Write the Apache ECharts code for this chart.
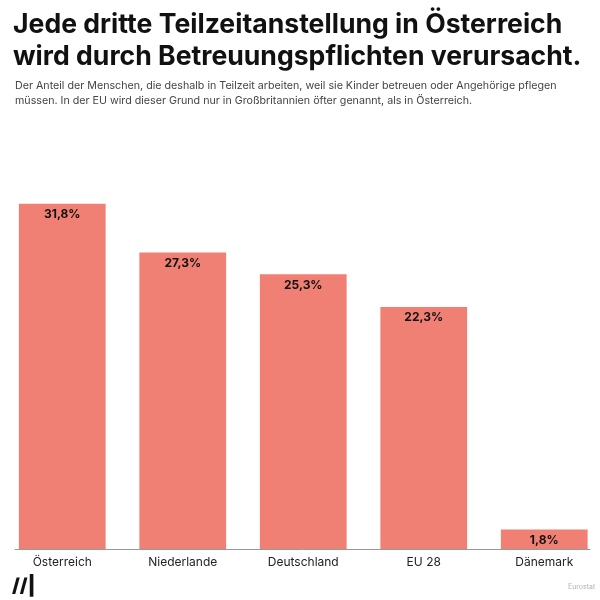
<!DOCTYPE html>
<html><head><meta charset="utf-8">
<script src="https://cdn.jsdelivr.net/npm/echarts@6/dist/echarts.min.js"></script>
<style>html,body{margin:0;padding:0;background:#fff;overflow:hidden}#c{width:606px;height:600px}</style>
</head><body><div id="c"></div>
<script>
const categories = ['Österreich', 'Niederlande', 'Deutschland', 'EU 28', 'Dänemark'];
const values = [31.8, 27.3, 25.3, 22.3, 1.8];
const valueLabels = ['31,8%', '27,3%', '25,3%', '22,3%', '1,8%'];
const titleText = 'Jede dritte Teilzeitanstellung in Österreich\nwird durch Betreuungspflichten verursacht.';
const subtitleText = 'Der Anteil der Menschen, die deshalb in Teilzeit arbeiten, weil sie Kinder betreuen oder Angehörige pflegen\nmüssen. In der EU wird dieser Grund nur in Großbritannien öfter genannt, als in Österreich.';
const sourceText = 'Eurostat';

const chart = echarts.init(document.getElementById('c'), null, {renderer: 'canvas'});
const font = 'Inter, Lato, "Noto Sans", sans-serif';
chart.setOption({
  animation: false,
  backgroundColor: '#fff',
  title: [
    {text: titleText, left: 8, top: 4, textStyle: {fontFamily: font, fontWeight: 'bold', fontSize: 26.6, lineHeight: 32, color: '#111'}},
    {text: subtitleText, left: 10, top: 73, textStyle: {fontFamily: font, fontWeight: 'normal', fontSize: 10.7, lineHeight: 15, color: '#444'}},
    {text: sourceText, left: 563, top: 578, textStyle: {fontFamily: font, fontWeight: 'normal', fontSize: 7, color: '#b5b5b5'}},
    {text: '//|', left: 7, top: 572, textStyle: {fontFamily: font, fontWeight: 900, fontSize: 19, color: '#111'}}
  ],
  grid: [
    {left: 2, width: 602.5, top: 169, bottom: 51},
    {left: 15, width: 575, top: 169, bottom: 51}
  ],
  xAxis: [
    {type: 'category', gridIndex: 0, data: categories,
     axisLine: {show: false}, axisTick: {show: false},
     axisLabel: {color: '#222', fontFamily: font, fontSize: 12, margin: 7}},
    {type: 'category', gridIndex: 1, data: categories,
     axisLine: {show: true, lineStyle: {color: '#999', width: 1}}, axisTick: {show: false}, axisLabel: {show: false}}
  ],
  yAxis: [
    {type: 'value', gridIndex: 0, min: 0, max: 35, show: false, splitLine: {show: false}},
    {type: 'value', gridIndex: 1, min: 0, max: 35, show: false, splitLine: {show: false}}
  ],
  series: [{
    type: 'bar', xAxisIndex: 0, yAxisIndex: 0,
    data: values,
    barCategoryGap: '28%',
    itemStyle: {color: '#ef8073'},
    label: {
      show: true, position: 'insideTop', distance: 5,
      formatter: p => valueLabels[p.dataIndex],
      color: '#111', fontFamily: font, fontWeight: 'bold', fontSize: 12
    }
  }]
});
</script></body></html>
